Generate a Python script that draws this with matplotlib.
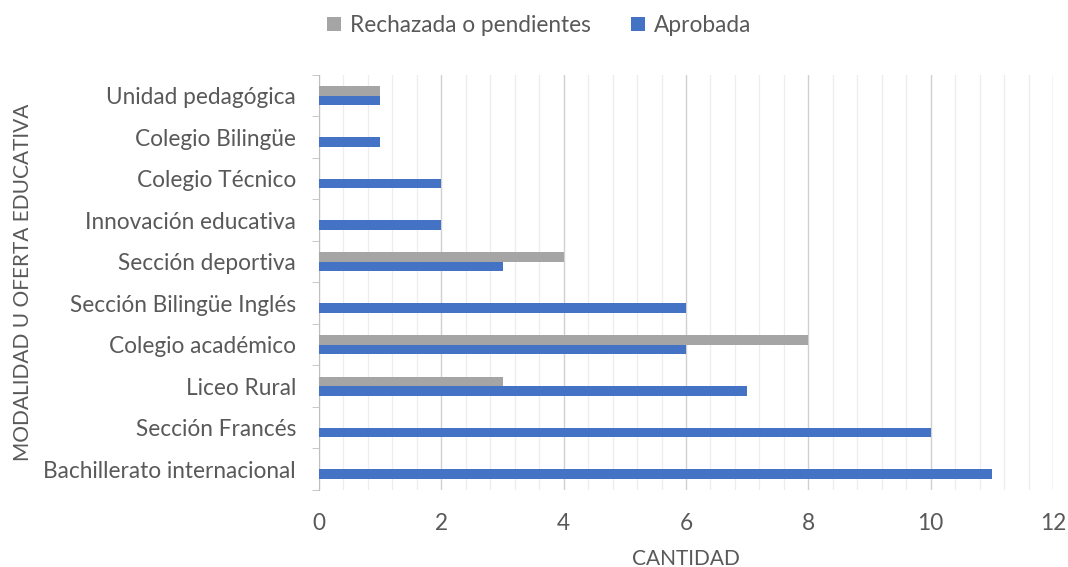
import numpy as np
import matplotlib
matplotlib.use("Agg")
import matplotlib.pyplot as plt
from matplotlib.ticker import MultipleLocator, FixedLocator

categorias = ["Unidad pedagógica", "Colegio Bilingüe", "Colegio Técnico",
              "Innovación educativa", "Sección deportiva", "Sección Bilingüe Inglés",
              "Colegio académico", "Liceo Rural", "Sección Francés",
              "Bachillerato internacional"]
rechazada = [1, 0, 0, 0, 4, 0, 8, 3, 0, 0]
aprobada = [1, 1, 2, 2, 3, 6, 6, 7, 10, 11]

plt.rcParams['font.family'] = ['Lato', 'DejaVu Sans']
texto = "#595959"
fs = 16.3

fig = plt.figure(figsize=(10.68, 5.67), dpi=100)
ax = fig.add_axes([0.2987, 0.136, 0.6873, 0.732])

y = np.arange(len(categorias))
h = 0.23
ax.barh(y - h / 2, rechazada, height=h, color="#A5A5A5", label="Rechazada o pendientes", zorder=3)
ax.barh(y + h / 2, aprobada, height=h, color="#4472C4", label="Aprobada", zorder=3)

ax.set_ylim(len(categorias) - 0.5, -0.5)
ax.set_xlim(0, 12)
ax.set_yticks(y)
ax.set_yticklabels(categorias, fontsize=fs, color=texto)
ax.yaxis.set_minor_locator(FixedLocator(np.arange(-0.5, len(categorias), 1)))
ax.tick_params(axis="y", which="major", length=0, pad=16.5)
ax.tick_params(axis="y", which="minor", length=5, color="#BFBFBF")

ax.xaxis.set_major_locator(MultipleLocator(2))
ax.xaxis.set_minor_locator(MultipleLocator(0.4))
ax.tick_params(axis="x", which="both", length=0, labelsize=fs, labelcolor=texto, pad=17)
ax.grid(axis="x", which="major", color="#D0D0D0", linewidth=1, zorder=0)
ax.grid(axis="x", which="minor", color="#EDEDED", linewidth=0.9, zorder=0)

for s in ["top", "right", "bottom"]:
    ax.spines[s].set_visible(False)
ax.spines["left"].set_color("#BFBFBF")

ax.set_xlabel("CANTIDAD", fontsize=15, color=texto, labelpad=10.5)
ax.set_ylabel("MODALIDAD U OFERTA EDUCATIVA", fontsize=15, color=texto)
ax.yaxis.set_label_coords(-0.39, 0.5)

leg = fig.legend(loc="upper center", bbox_to_anchor=(0.505, 1.01), ncol=2, frameon=False,
                 fontsize=fs, handlelength=0.6, handleheight=0.6, handletextpad=0.4,
                 columnspacing=1.8)
for t in leg.get_texts():
    t.set_color(texto)

fig.savefig("out.png", dpi=100)
